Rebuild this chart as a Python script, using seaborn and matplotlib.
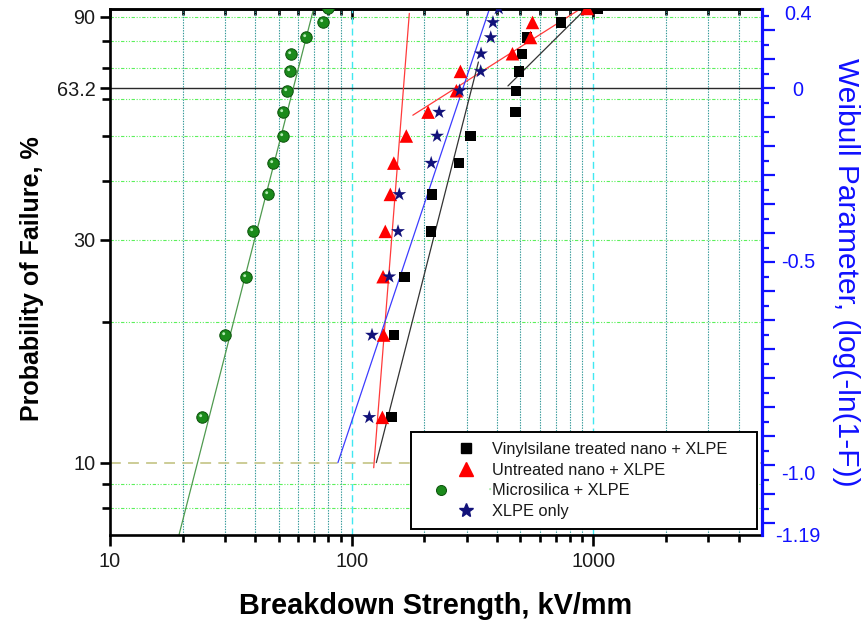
import numpy as np
import matplotlib
matplotlib.use("Agg")
import matplotlib.pyplot as plt
import matplotlib.ticker as mticker
from matplotlib.lines import Line2D
from matplotlib.path import Path
from matplotlib.legend_handler import HandlerTuple
import seaborn as sns

# Cumulative probability of failure (%) of the ranked samples
prob_failure = [12.5, 18.75, 25.0, 31.25, 37.5, 43.75, 50.0, 56.25,
                62.5, 68.75, 75.0, 81.25, 87.5, 93.75]

# Breakdown strength (kV/mm) of the ranked samples
vinyl_kv = [146.5, 150.3, 165.8, 212.6, 215.4, 277.6, 310.5, 476.9,
            480.1, 492.2, 508.4, 533.4, 734.8, 1043.0]
untreated_kv = [134.1, 135.7, 135.0, 137.9, 144.7, 149.6, 168.5, 207.3,
                271.6, 282.2, 463.4, 550.4, 561.0, 945.0]
micro_kv = [24.0, 29.9, 36.5, 39.0, 45.2, 47.2, 51.8, 52.1,
            54.0, 55.5, 56.4, 64.7, 75.8, 79.8]
xlpe_kv = [118.4, 121.5, 143.3, 155.7, 157.6, 213.6, 225.9, 230.4,
           280.1, 342.4, 343.5, 376.8, 384.8, 406.6]

# Straight-line fits: end points (kV/mm, %)
vinyl_fit_lo_kv, vinyl_fit_lo_prob = [126.6, 335.0], [10.0, 72.0]
vinyl_fit_hi_kv, vinyl_fit_hi_prob = [443.9, 930.0], [64.0, 93.5]
untreated_fit_lo_kv, untreated_fit_lo_prob = [123.5, 173.4], [9.75, 91.5]
untreated_fit_hi_kv, untreated_fit_hi_prob = [179.3, 870.0], [55.4, 93.0]
micro_fit_kv, micro_fit_prob = [19.3, 69.6], [7.0, 93.5]
xlpe_fit_kv, xlpe_fit_prob = [87.8, 372.0], [10.0, 93.5]

series_names = ["Vinylsilane treated nano + XLPE", "Untreated nano + XLPE",
                "Microsilica + XLPE", "XLPE only"]

# Tick positions and labels
x_major = [10, 100, 1000]
x_major_labels = ["10", "100", "1000"]
x_minor = [20, 30, 40, 50, 60, 70, 80, 90,
           200, 300, 400, 500, 600, 700, 800, 900, 2000, 3000, 4000]
y_major = [10, 30, 63.2, 90]
y_major_labels = ["10", "30", "63.2", "90"]
y_minor = [8, 9, 20, 40, 50, 60, 70, 80]
grid_prob = [8, 9, 20, 30, 40, 50, 60, 70, 80, 90]
weibull_values = [0.4, 0.0, -0.5, -1.0, -1.19]
weibull_labels = ["0.4", "0", "-0.5", "-1.0", "-1.19"]

x_lim = (10, 5000)
y_lim = (7.0, 93.5)

sns.set_theme(style="white")
plt.rcParams["font.family"] = ["Liberation Sans", "DejaVu Sans"]
plt.rcParams["axes.unicode_minus"] = False

W, H = 863, 628
fig = plt.figure(figsize=(W / 100, H / 100), dpi=100)
ax = fig.add_axes([110 / W, 1 - 535 / H, 652 / W, 526 / H])
ax.set_xscale("log")
ax.set_yscale("log")
ax.set_xlim(*x_lim)
ax.set_ylim(*y_lim)

# Grid
for xv in x_minor:
    ax.axvline(xv, color="#2f9696", lw=0.8, ls=(0, (1.2, 1.2)), zorder=0.5)
for xv in [100, 1000]:
    ax.axvline(xv, color="#3fe8f2", lw=1.0, ls=(0, (5, 3)), zorder=0.5)
for yv in grid_prob:
    ax.axhline(yv, color="#5cf05c", lw=0.8,
               ls=(0, (3, 1.5, 1, 1.5, 1, 1.5)), zorder=0.5)
ax.axhline(10, color="#c8c88e", lw=1.3, ls=(0, (6, 4)), zorder=0.6)
ax.axhline(63.2, color="#2a2a2a", lw=1.0, zorder=0.7)

# Fit lines
fit_specs = [
    (micro_fit_kv, micro_fit_prob, "#4f9a4f"),
    (untreated_fit_lo_kv, untreated_fit_lo_prob, "#ff3a3a"),
    (untreated_fit_hi_kv, untreated_fit_hi_prob, "#ff3a3a"),
    (xlpe_fit_kv, xlpe_fit_prob, "#3c3cff"),
    (vinyl_fit_lo_kv, vinyl_fit_lo_prob, "#333333"),
    (vinyl_fit_hi_kv, vinyl_fit_hi_prob, "#333333"),
]
for kv, pr, col in fit_specs:
    sns.lineplot(x=kv, y=pr, ax=ax, color=col, linewidth=0.9,
                 sort=False, estimator=None, legend=False, zorder=2)

# Data points
green, green_dark, green_light = "#1b8a1b", "#0c520c", "#b4ecb4"
navy = "#12127a"
sns.scatterplot(x=vinyl_kv, y=prob_failure, ax=ax, marker="s", s=55,
                color="black", edgecolor="none", linewidth=0, zorder=3,
                legend=False)
sns.scatterplot(x=untreated_kv, y=prob_failure, ax=ax, marker="^", s=95,
                color="#ff0000", edgecolor="none", linewidth=0, zorder=3,
                legend=False)
sns.scatterplot(x=micro_kv, y=prob_failure, ax=ax, marker="o", s=68,
                color=green, edgecolor=green_dark, linewidth=0.7, zorder=3,
                legend=False)
sns.scatterplot(x=xlpe_kv, y=prob_failure, ax=ax, marker="*", s=110,
                color=navy, edgecolor="none", linewidth=0, zorder=3,
                legend=False)
# Glossy highlight on the spheres (offset up-left inside the marker)
highlight = Path.circle(center=(-1.0, 1.0), radius=0.8)
ax.plot(micro_kv, prob_failure, ls="none", marker=highlight, ms=4.7,
        color=green_light, mew=0, zorder=4)

# Spines and ticks of the main axes
for side in ["left", "bottom", "top"]:
    ax.spines[side].set_color("black")
    ax.spines[side].set_linewidth(1.9)
ax.spines["right"].set_visible(False)

ax.xaxis.set_major_locator(mticker.FixedLocator(x_major))
ax.xaxis.set_major_formatter(mticker.FixedFormatter(x_major_labels))
ax.xaxis.set_minor_locator(mticker.FixedLocator(x_minor))
ax.xaxis.set_minor_formatter(mticker.NullFormatter())
ax.tick_params(axis="x", which="major", direction="out", length=8, width=1.9,
               color="black", labelsize=14.3, labelcolor="#1a1a1a", pad=4,
               bottom=True, top=False, labeltop=False)
ax.tick_params(axis="x", which="minor", direction="out", length=5, width=1.9,
               color="black", bottom=True, top=False)

ax.yaxis.set_major_locator(mticker.FixedLocator(y_major))
ax.yaxis.set_major_formatter(mticker.FixedFormatter(y_major_labels))
ax.yaxis.set_minor_locator(mticker.FixedLocator(y_minor))
ax.yaxis.set_minor_formatter(mticker.NullFormatter())
ax.tick_params(axis="y", which="major", direction="out", length=7.5, width=1.9,
               color="black", labelsize=14.3, labelcolor="#1a1a1a", pad=3,
               left=True, right=False)
ax.tick_params(axis="y", which="minor", direction="out", length=6, width=1.9,
               color="black", left=True, right=False)
for tick, loc in zip(ax.yaxis.get_major_ticks(), y_major):
    if loc == 63.2:
        tick.tick1line.set_visible(False)

# Top axis: inward ticks only
top = ax.secondary_xaxis("top")
top.set_xticks(x_major)
top.tick_params(axis="x", which="major", direction="in", length=7.5,
                width=1.9, color="black", labeltop=False, labelbottom=False)
top.tick_params(axis="x", which="minor", direction="in", length=4,
                width=1.9, color="black", labeltop=False, labelbottom=False)
top.spines["top"].set_linewidth(1.9)

# Right axis: Weibull parameter scale (blue)
blue = "#1010ff"
ax2 = ax.twinx()
ax2.set_yscale("log")
ax2.set_ylim(*y_lim)
step = np.log10(y_lim[1] / y_lim[0]) * 29 / 526
base = np.log10(63.2)
lo, hi = np.log10(y_lim[0]), np.log10(y_lim[1])
long_ticks = [10 ** (base + k * step) for k in range(-20, 6)
              if lo <= base + k * step <= hi]
short_ticks = [10 ** (base + (k + 0.5) * step) for k in range(-20, 6)
               if lo <= base + (k + 0.5) * step <= hi]
ax2.yaxis.set_major_locator(mticker.FixedLocator(long_ticks))
ax2.yaxis.set_minor_locator(mticker.FixedLocator(short_ticks))
ax2.yaxis.set_major_formatter(mticker.NullFormatter())
ax2.yaxis.set_minor_formatter(mticker.NullFormatter())
ax2.tick_params(axis="y", which="major", direction="out", length=9, width=1.6,
                color=blue, right=True, left=False)
ax2.tick_params(axis="y", which="minor", direction="out", length=5, width=1.6,
                color=blue, right=True, left=False)
for side in ["left", "top", "bottom"]:
    ax2.spines[side].set_visible(False)
ax2.spines["right"].set_color(blue)
ax2.spines["right"].set_linewidth(2.3)

ax3 = ax.twinx()
ax3.set_yscale("log")
ax3.set_ylim(*y_lim)
weibull_pos = np.clip(100 * (1 - np.exp(-10.0 ** np.array(weibull_values))),
                      y_lim[0], y_lim[1])
ax3.yaxis.set_major_locator(mticker.FixedLocator(weibull_pos))
ax3.yaxis.set_major_formatter(mticker.FixedFormatter(weibull_labels))
ax3.yaxis.set_minor_locator(mticker.NullLocator())
ax3.tick_params(axis="y", which="major", length=0, pad=26, labelsize=14.3,
                labelcolor=blue, right=True, left=False)
for lbl in ax3.get_yticklabels():
    lbl.set_horizontalalignment("center")
for side in ax3.spines:
    ax3.spines[side].set_visible(False)

# Axis titles
ax.set_xlabel("Breakdown Strength, kV/mm", fontsize=20.8, fontweight="bold",
              color="black", va="center")
ax.xaxis.set_label_coords(0.5, (535 - 606) / 526)
ax.set_ylabel("Probability of Failure, %", fontsize=18, fontweight="bold",
              color="black", rotation=90, rotation_mode="anchor",
              ha="center", va="center")
ax.yaxis.set_label_coords((32 - 110) / 652, (535 - 279) / 526)
ax3.set_ylabel("Weibull Parameter, (log(-ln(1-F))", fontsize=21.5,
               color=blue, rotation=270, rotation_mode="anchor",
               ha="center", va="center")
ax3.yaxis.set_label_coords((846 - 110) / 652, 0.5)

# Legend
h_sq = Line2D([], [], ls="none", marker="s", ms=6.5, color="black")
h_tri = Line2D([], [], ls="none", marker="^", ms=9.4, color="#ff0000")
h_sph = (Line2D([], [], ls="none", marker="o", ms=7.2, mfc=green,
                mec=green_dark, mew=0.7),
         Line2D([], [], ls="none", marker=highlight, ms=3.6,
                color=green_light, mew=0))
h_star = Line2D([], [], ls="none", marker="*", ms=10, color=navy)
leg = ax3.legend([h_sq, h_tri, h_sph, h_star], series_names,
                 handler_map={tuple: HandlerTuple(ndivide=None)},
                 loc="lower left",
                 bbox_to_anchor=(0.4624, 0.0114, 0.5299, 0.2),
                 mode="expand", borderaxespad=0, fontsize=11.8,
                 handlelength=5.4, handletextpad=-1.09, borderpad=0.62,
                 labelspacing=0.34, frameon=True, fancybox=False,
                 framealpha=1, edgecolor="black", facecolor="white")
leg.get_frame().set_linewidth(1.4)
for txt in leg.get_texts():
    txt.set_color("#1a1a1a")

fig.savefig("out.png", dpi=100)
